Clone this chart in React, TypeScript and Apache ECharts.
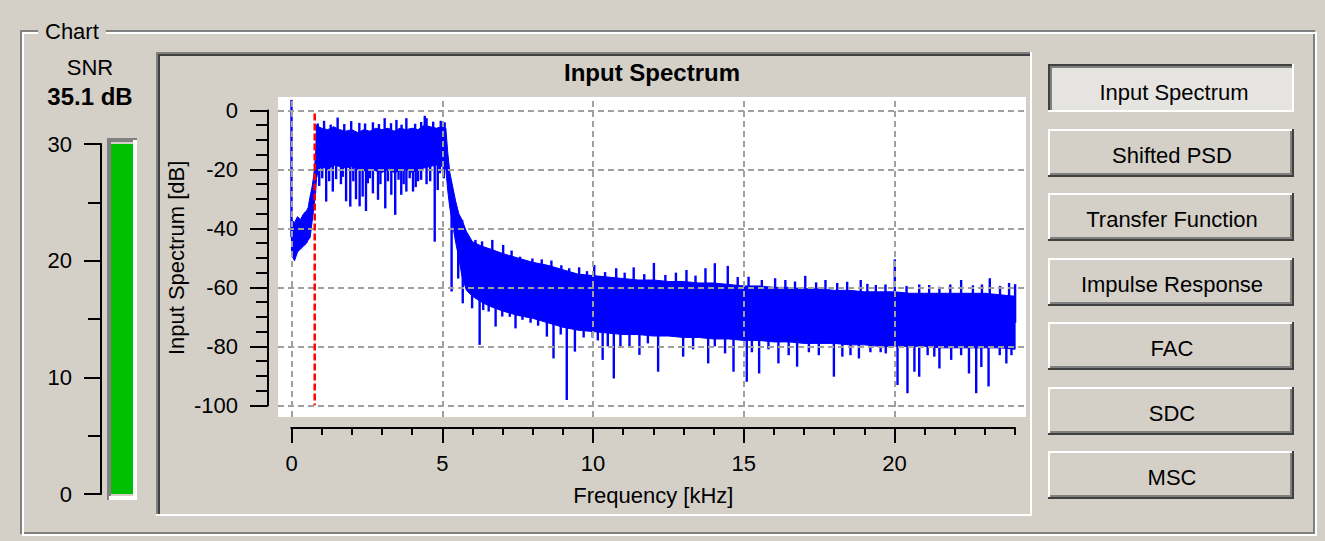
import React, { useEffect, useRef } from "react";
import * as echarts from "echarts";

// ---------------- data ----------------
// Dense core of the spectrum: frequency (kHz), upper and lower edge (dB)
const bandFreq = [
  0.0, 0.1, 0.2, 0.3, 0.4, 0.5, 0.55, 0.62, 0.68, 0.74, 0.8, 0.83, 0.9,
  1.0, 1.2, 1.4, 1.6, 1.8, 2.0, 2.2, 2.4, 2.6, 2.8, 3.0, 3.2, 3.4, 3.6, 3.8,
  4.0, 4.2, 4.4, 4.6, 4.8, 5.0, 5.12, 5.18, 5.25, 5.35, 5.45, 5.55, 5.65,
  5.8, 6.0, 6.3, 6.6, 7.0, 7.5, 8.0, 8.5, 9.0, 9.5, 10.0, 10.5, 11.0, 11.5,
  12.0, 12.5, 13.0, 13.5, 14.0, 14.5, 15.0, 15.5, 16.0, 16.5, 17.0, 17.5,
  18.0, 18.5, 19.0, 19.5, 20.0, 20.5, 21.0, 21.5, 22.0, 22.5, 23.0, 23.5, 24.0,
];
const bandTop = [
  -37, -38, -36, -37, -35, -34, -33, -29, -26, -22, -15, -5, -5.5,
  -6, -6.5, -5.5, -6.5, -7, -6.5, -7.5, -6.5, -7, -6, -6.5, -6, -7, -6, -6.5,
  -6, -6.5, -5, -5.5, -6, -5.5, -6, -14, -21, -26, -31, -35, -37,
  -41, -44.5, -46, -47, -48.5, -50, -51.5, -52.5, -54, -55.5, -56, -56.5, -57, -57.5,
  -57.5, -58, -58, -58.5, -58.5, -59, -59.5, -59.5, -60, -60, -60.5, -60.5,
  -61, -61, -61.5, -61.5, -61.5, -62, -62, -62, -62, -62, -62, -62.5, -63,
];
const bandBottom = [
  -49, -51, -48, -47, -46, -45, -44, -43, -38, -33, -28, -23, -20,
  -19, -20, -18.5, -19, -19.5, -19, -20, -20.5, -19.5, -20.5, -21, -20, -21, -20.5, -20,
  -21, -20, -19.5, -19, -18.5, -19, -20, -27, -33, -39, -45, -50, -56,
  -61, -63, -65, -66.5, -68, -69.5, -70.5, -72, -73.5, -74.5, -75, -75.5, -76, -76,
  -76.5, -76.5, -77, -77, -77.5, -77.5, -78, -78, -78.5, -78.5, -79, -79,
  -79, -79.5, -79.5, -80, -80, -80, -80, -80.5, -80.5, -80.5, -80.5, -80.5, -81,
];
// Isolated peaks and dips sticking out of the core: [kHz, dB]
const spikes: [number, number][] = [
  [0.0, 3.6],
  // peaks above the pass band
  [0.87, -4.4], [1.08, -3.5], [1.3, -4.8], [1.53, -2.4], [1.75, -4.6], [1.98, -3.6], [2.25, -4.2],
  [2.44, -4.4], [2.7, -4.0], [2.9, -4.6], [3.09, -2.6], [3.3, -4.3], [3.48, -3.2], [3.65, -4.8],
  [3.81, -2.6], [4.1, -4.5], [4.3, -3.9], [4.42, -1.8], [4.48, -2.6], [4.7, -3.8], [4.95, -3.5],
  [5.08, -4.0],
  // peaks above the noise floor
  [5.66, -37.1], [6.1, -43.9], [6.32, -44.4], [6.66, -43.9], [7.02, -45.6], [7.3, -47.5], [7.58, -49.6],
  [7.99, -50.2], [8.3, -50.5], [8.62, -50.9], [8.95, -52.5], [9.21, -53.5], [9.54, -53.2], [9.8, -54.5],
  [10.04, -52.4], [10.4, -54.8], [10.77, -53.5], [11.05, -55.0], [11.35, -53.2], [11.7, -55.5],
  [12.02, -51.7], [12.4, -55.8], [12.75, -55.0], [13.1, -54.1], [13.4, -56.0], [13.73, -53.5],
  [14.04, -51.8], [14.47, -52.7], [14.8, -56.5], [15.16, -56.4], [15.6, -57.5], [16.04, -56.9],
  [16.38, -57.5], [16.7, -58.0], [17.04, -56.1], [17.4, -58.3], [17.71, -57.5], [18.1, -58.5],
  [18.43, -58.1], [18.88, -57.5], [19.1, -58.8], [19.38, -59.2], [19.7, -59.0], [20.01, -50.5],
  [20.4, -59.5], [20.82, -59.0], [21.15, -59.2], [21.49, -59.8], [21.85, -59.0], [22.21, -57.5],
  [22.6, -59.3], [22.9, -59.0], [23.16, -56.9], [23.5, -59.5], [23.8, -58.5], [24.0, -58.9],
  // dips below the pass band
  [0.92, -25.6], [1.02, -23.0], [1.15, -30.9], [1.25, -24.0], [1.37, -27.5], [1.48, -23.3],
  [1.64, -25.0], [1.7, -22.5], [1.81, -30.8], [1.95, -32.6], [2.05, -24.0], [2.14, -30.1],
  [2.26, -32.5], [2.36, -29.2], [2.47, -34.1], [2.53, -24.7], [2.6, -23.0], [2.7, -28.1],
  [2.87, -30.3], [2.95, -25.0], [3.11, -33.2], [3.2, -24.0], [3.31, -28.6], [3.44, -35.4],
  [3.55, -23.5], [3.64, -28.6], [3.72, -25.0], [3.81, -27.5], [3.92, -23.0], [4.03, -27.5],
  [4.12, -26.0], [4.2, -24.0], [4.3, -23.5], [4.48, -25.0], [4.6, -24.0], [4.75, -44.5],
  [4.85, -27.0], [4.92, -21.3], [5.05, -23.0],
  // dips below the noise floor
  [5.31, -61.4], [5.53, -57.0], [5.68, -65.4], [5.99, -67.1], [6.24, -79.5], [6.36, -67.7],
  [6.54, -68.2], [6.77, -73.3], [6.99, -69.9], [7.24, -70.0], [7.43, -73.9], [7.66, -71.0],
  [7.93, -72.0], [8.18, -73.0], [8.47, -76.7], [8.69, -84.1], [8.93, -76.0], [9.13, -98.2],
  [9.4, -81.8], [9.69, -77.0], [9.99, -77.0], [10.16, -78.0], [10.32, -84.6], [10.49, -80.0],
  [10.69, -90.9], [10.91, -80.0], [11.21, -80.0], [11.54, -82.9], [11.82, -79.0], [12.16, -88.6],
  [12.99, -83.5], [13.32, -81.0], [13.82, -85.8], [14.04, -80.0], [14.38, -82.4], [14.66, -88.6],
  [15.1, -92.0], [15.27, -82.0], [15.51, -89.2], [15.82, -81.0], [16.15, -85.8], [16.49, -83.0],
  [16.77, -86.9], [17.16, -82.0], [17.49, -83.0], [17.99, -90.3], [18.27, -83.5], [18.54, -83.0],
  [18.82, -84.1], [19.2, -82.0], [19.54, -82.0], [19.71, -82.4], [20.1, -93.1], [20.43, -95.9],
  [20.66, -88.6], [20.82, -90.3], [21.1, -83.0], [21.32, -83.5], [21.49, -87.5], [21.88, -84.6],
  [22.21, -83.0], [22.47, -89.2], [22.71, -95.9], [22.88, -87.0], [23.12, -93.6], [23.49, -83.0],
  [23.71, -85.8], [23.88, -83.0],
];
const markerFreq = 0.77;
const markerRange = [-1, -100];
const xGridValues = [0, 5, 10, 15, 20];
const yGridValues = [0, -20, -40, -60, -80, -100];
const buttonLabels = [
  "Input Spectrum", "Shifted PSD", "Transfer Function", "Impulse Response", "FAC", "SDC", "MSC",
];
const activeButton = 0;
const snrValue = 35.1;
const snrScaleMax = 30;

// ---------------- layout / style ----------------
const BG = "#d4d0c8";
const BLUE = "#0000ff";
const FONT = '"Liberation Sans", Arial, sans-serif';
const PLOT = { left: 278, top: 97, width: 748, height: 320 };
const X0 = 291.5;
const PX_PER_KHZ = 30.15;
const Y0 = 110.5;
const PX_PER_DB = 2.948;
const xMin = -(X0 - PLOT.left) / PX_PER_KHZ;
const xMax = xMin + PLOT.width / PX_PER_KHZ;
const yMax = (Y0 - PLOT.top) / PX_PER_DB;
const yMin = yMax - PLOT.height / PX_PER_DB;

function bandMidAt(f: number): number {
  const n = bandFreq.length;
  if (f <= bandFreq[0]) return (bandTop[0] + bandBottom[0]) / 2;
  for (let i = 1; i < n; i++) {
    if (f <= bandFreq[i]) {
      const t = (f - bandFreq[i - 1]) / (bandFreq[i] - bandFreq[i - 1]);
      const top = bandTop[i - 1] + t * (bandTop[i] - bandTop[i - 1]);
      const bot = bandBottom[i - 1] + t * (bandBottom[i] - bandBottom[i - 1]);
      return (top + bot) / 2;
    }
  }
  return (bandTop[n - 1] + bandBottom[n - 1]) / 2;
}

function rect(x: number, y: number, w: number, h: number, fill: string, z = 1) {
  return { type: "rect", z, silent: true, shape: { x, y, width: w, height: h }, style: { fill } };
}

function buildGraphics() {
  const els: any[] = [];
  // etched group box
  els.push({ type: "rect", z: 1, silent: true, shape: { x: 21, y: 31, width: 1293, height: 502 }, style: { fill: "none", stroke: "#808080", lineWidth: 2 } });
  els.push({ type: "rect", z: 1, silent: true, shape: { x: 23, y: 33, width: 1293, height: 502 }, style: { fill: "none", stroke: "#ffffff", lineWidth: 2 } });
  els.push({
    type: "text", z: 10, silent: true, x: 38, y: 31,
    style: { text: "Chart", fontFamily: FONT, fontSize: 22, fill: "#000", verticalAlign: "middle", align: "left", backgroundColor: BG, padding: [2, 7] },
  });
  // SNR readout
  els.push({ type: "text", z: 10, silent: true, x: 90, y: 67, style: { text: "SNR", fontFamily: FONT, fontSize: 22, fill: "#000", align: "center", verticalAlign: "middle" } });
  els.push({ type: "text", z: 10, silent: true, x: 90, y: 96, style: { text: `${snrValue.toFixed(1)} dB`, fontFamily: FONT, fontSize: 24, fontWeight: "bold", fill: "#000", align: "center", verticalAlign: "middle" } });
  // SNR bar sunken frame
  els.push(rect(107, 138, 30, 4, "#808080"));
  els.push(rect(107, 138, 4, 362, "#808080"));
  els.push(rect(133, 140, 4, 360, "#ffffff"));
  els.push(rect(109, 496, 28, 4, "#ffffff"));
  // chart panel sunken frame
  els.push(rect(156, 52, 876, 2, "#808080"));
  els.push(rect(156, 52, 2, 464, "#808080"));
  els.push(rect(158, 54, 872, 2, "#404040"));
  els.push(rect(158, 54, 2, 460, "#404040"));
  els.push(rect(156, 514, 876, 2, "#ffffff"));
  els.push(rect(1030, 52, 2, 464, "#ffffff"));
  // title
  els.push({ type: "text", z: 10, silent: true, x: PLOT.left + PLOT.width / 2, y: 72, style: { text: "Input Spectrum", fontFamily: FONT, fontSize: 24, fontWeight: "bold", fill: "#000", align: "center", verticalAlign: "middle" } });
  // buttons
  const bx = 1048, bw = 246, bh = 48;
  buttonLabels.forEach((label, i) => {
    const by = Math.round(64 + 64.5 * i);
    const pressed = i === activeButton;
    if (pressed) {
      els.push(rect(bx, by, bw, bh, "#e6e4e0"));
      els.push(rect(bx, by, bw, 2, "#404040"));
      els.push(rect(bx, by, 2, bh, "#404040"));
      els.push(rect(bx + 2, by + 2, bw - 4, 2, "#808080"));
      els.push(rect(bx + 2, by + 2, 2, bh - 4, "#808080"));
      els.push(rect(bx, by + bh - 2, bw, 2, "#ffffff"));
      els.push(rect(bx + bw - 2, by, 2, bh, "#ffffff"));
    } else {
      els.push(rect(bx, by, bw, 2, "#ffffff"));
      els.push(rect(bx, by, 2, bh, "#ffffff"));
      els.push(rect(bx + 2, by + bh - 4, bw - 4, 2, "#808080"));
      els.push(rect(bx + bw - 4, by + 2, 2, bh - 4, "#808080"));
      els.push(rect(bx, by + bh - 2, bw, 2, "#404040"));
      els.push(rect(bx + bw - 2, by, 2, bh, "#404040"));
    }
    els.push({
      type: "text", z: 10, silent: true,
      x: bx + bw / 2 + 1 + (pressed ? 2 : 0), y: by + 26.5 + (pressed ? 2 : 0),
      style: { text: label, fontFamily: FONT, fontSize: 22, fill: "#000", align: "center", verticalAlign: "middle" },
    });
  });
  return els;
}

const axisText = { fontFamily: FONT, fontSize: 22, color: "#000" };
const blackLine = { color: "#000", width: 2 };

export default function App() {
  const ref = useRef<HTMLDivElement>(null);
  useEffect(() => {
    if (!ref.current) return;
    const chart = echarts.init(ref.current, undefined, { renderer: "svg" });
    const option: any = {
      animation: false,
      backgroundColor: BG,
      graphic: { elements: buildGraphics() },
      grid: [
        { left: PLOT.left, top: PLOT.top, width: PLOT.width, height: PLOT.height, show: true, backgroundColor: "#ffffff", borderWidth: 0, containLabel: false, outerBoundsMode: "none" },
        { left: X0, top: 427, width: 20 * PX_PER_KHZ, height: 1, containLabel: false, outerBoundsMode: "none" },
        { left: X0, top: 427, width: 24 * PX_PER_KHZ, height: 1, containLabel: false, outerBoundsMode: "none" },
        { left: 268, top: Y0, width: 1, height: 100 * PX_PER_DB, containLabel: false, outerBoundsMode: "none" },
        { left: 101, top: 144, width: 42, height: 350, containLabel: false, outerBoundsMode: "none" },
      ],
      xAxis: [
        { gridIndex: 0, type: "value", min: xMin, max: xMax, show: false },
        {
          gridIndex: 1, type: "value", min: 0, max: 20, interval: 5, position: "bottom",
          axisLine: { show: true, onZero: false, lineStyle: blackLine },
          axisTick: { show: true, length: 15, lineStyle: blackLine },
          axisLabel: { show: true, margin: 35, verticalAlign: "middle", ...axisText },
          splitLine: { show: false },
        },
        {
          gridIndex: 2, type: "value", min: 0, max: 24, interval: 1, position: "bottom",
          axisLine: { show: true, onZero: false, lineStyle: blackLine },
          axisTick: { show: true, length: 7, lineStyle: blackLine },
          axisLabel: { show: false },
          splitLine: { show: false },
          name: "Frequency [kHz]", nameLocation: "middle", nameGap: 67,
          nameTextStyle: { ...axisText, verticalAlign: "middle" },
        },
        { gridIndex: 3, type: "value", min: 0, max: 1, show: false },
        { gridIndex: 4, type: "category", data: ["SNR"], show: false },
      ],
      yAxis: [
        { gridIndex: 0, type: "value", min: yMin, max: yMax, show: false },
        { gridIndex: 1, type: "value", min: 0, max: 1, show: false },
        { gridIndex: 2, type: "value", min: 0, max: 1, show: false },
        {
          gridIndex: 3, type: "value", min: -100, max: 0, interval: 20, position: "left",
          axisLine: { show: true, onZero: false, lineStyle: blackLine },
          axisTick: { show: true, length: 18, lineStyle: blackLine },
          minorTick: { show: true, splitNumber: 4, length: 12, lineStyle: blackLine },
          axisLabel: { show: true, margin: 30, ...axisText },
          splitLine: { show: false },
          name: "Input Spectrum [dB]", nameLocation: "middle", nameGap: 92, nameRotate: 90,
          nameTextStyle: { ...axisText, verticalAlign: "middle", padding: [0, 0, 8, 0] },
        },
        {
          gridIndex: 4, type: "value", min: 0, max: snrScaleMax, interval: 10, position: "left",
          axisLine: { show: true, onZero: false, lineStyle: blackLine },
          axisTick: { show: true, length: 17, lineStyle: blackLine },
          minorTick: { show: true, splitNumber: 2, length: 13, lineStyle: blackLine },
          axisLabel: { show: true, margin: 29, ...axisText },
          splitLine: { show: false },
        },
      ],
      series: [
        {
          type: "custom", name: "Input spectrum core", xAxisIndex: 0, yAxisIndex: 0, clip: true, silent: true, z: 2,
          data: bandFreq.map((f, i) => [f, bandBottom[i], bandTop[i]]),
          encode: { x: 0, y: [1, 2] },
          renderItem: (params: any, api: any) => {
            if (params.dataIndex !== 0) return null;
            const pts: number[][] = [];
            for (let i = 0; i < bandFreq.length; i++) pts.push(api.coord([bandFreq[i], bandTop[i]]));
            for (let i = bandFreq.length - 1; i >= 0; i--) pts.push(api.coord([bandFreq[i], bandBottom[i]]));
            return { type: "polygon", shape: { points: pts }, style: { fill: BLUE, stroke: BLUE, lineWidth: 1 } };
          },
        },
        {
          type: "custom", name: "Input spectrum peaks", xAxisIndex: 0, yAxisIndex: 0, clip: true, silent: true, z: 2,
          data: spikes,
          encode: { x: 0, y: 1 },
          renderItem: (params: any, api: any) => {
            const f = api.value(0);
            const v = api.value(1);
            const p1 = api.coord([f, v]);
            const p2 = api.coord([f, bandMidAt(f)]);
            return { type: "line", shape: { x1: p1[0], y1: p1[1], x2: p2[0], y2: p2[1] }, style: { stroke: BLUE, lineWidth: 2.4 } };
          },
        },
        {
          type: "line", name: "grid", xAxisIndex: 0, yAxisIndex: 0, silent: true, z: 4,
          data: [[markerFreq, markerRange[0]]], showSymbol: false, symbol: "none",
          lineStyle: { opacity: 0 },
          markLine: {
            silent: true, symbol: ["none", "none"], label: { show: false }, animation: false,
            lineStyle: { color: "#a0a0a0", width: 2, type: [6, 4] },
            emphasis: { disabled: true },
            data: [
              ...xGridValues.map((v) => ({ xAxis: v })),
              ...yGridValues.map((v) => ({ yAxis: v })),
            ],
          },
        },
        {
          type: "line", name: "marker", xAxisIndex: 0, yAxisIndex: 0, silent: true, z: 5,
          data: [[markerFreq, markerRange[0]], [markerFreq, markerRange[1]]],
          symbol: "none", showSymbol: false,
          lineStyle: { color: "#ff0000", width: 2.5, type: [7, 3] },
        },
        {
          type: "bar", name: "SNR", xAxisIndex: 4, yAxisIndex: 4, silent: true,
          data: [Math.min(snrValue, snrScaleMax)], barWidth: 22,
          itemStyle: { color: "#00c000" },
        },
      ],
    };
    chart.setOption(option);
    return () => chart.dispose();
  }, []);
  return <div ref={ref} style={{ position: "absolute", left: 0, top: 0, width: 1325, height: 541 }} />;
}
